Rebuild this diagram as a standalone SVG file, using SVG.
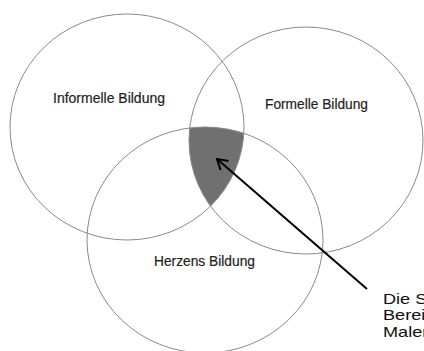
<svg xmlns="http://www.w3.org/2000/svg" width="424" height="351" viewBox="0 0 424 351">
  <style>
    .ring { fill: none; stroke: #8a8a8a; stroke-width: 1; }
    .lbl { font-family: "Liberation Sans", Arial, sans-serif; font-size: 14px; fill: #1e1e1e; stroke: #1e1e1e; stroke-width: 0.2; }
    .note { font-family: "Liberation Sans", Arial, sans-serif; font-size: 14.5px; fill: #111; }
    .arrow { stroke: #000; stroke-width: 2; fill: none; }
  </style>
  <defs>
    <clipPath id="c1"><ellipse cx="127" cy="127" rx="117" ry="113"/></clipPath>
    <clipPath id="c2"><ellipse cx="306" cy="140.5" rx="117" ry="113.5"/></clipPath>
    <marker id="head" viewBox="0 0 12 14" refX="11" refY="7" markerWidth="12" markerHeight="14" markerUnits="userSpaceOnUse" orient="auto">
      <polyline points="1,1 11,7 1,13" fill="none" stroke="#000" stroke-width="2"/>
    </marker>
  </defs>
  <rect width="424" height="351" fill="#fff"/>
  <g id="overlap" clip-path="url(#c1)">
    <g clip-path="url(#c2)">
      <ellipse cx="205" cy="240" rx="118" ry="113" fill="#707070"/>
    </g>
  </g>
  <g id="informelle">
    <ellipse class="ring" cx="127" cy="127" rx="117" ry="113"/>
    <text class="lbl" x="53" y="103" textLength="112" lengthAdjust="spacingAndGlyphs">Informelle Bildung</text>
  </g>
  <g id="formelle">
    <ellipse class="ring" cx="306" cy="140.5" rx="117" ry="113.5"/>
    <text class="lbl" x="265" y="109" textLength="103" lengthAdjust="spacingAndGlyphs">Formelle Bildung</text>
  </g>
  <g id="herzens">
    <ellipse class="ring" cx="205" cy="240" rx="118" ry="113"/>
    <text class="lbl" x="154" y="265.5" textLength="101" lengthAdjust="spacingAndGlyphs">Herzens Bildung</text>
  </g>
  <g id="connectors">
    <line class="arrow" x1="367" y1="289" x2="217" y2="159" marker-end="url(#head)"/>
  </g>
  <g id="note" transform="translate(383,0) scale(1.25,1)">
    <text class="note" x="0" y="304">Die S</text>
    <text class="note" x="0" y="320.5">Berei</text>
    <text class="note" x="0" y="337">Maler</text>
  </g>
</svg>
